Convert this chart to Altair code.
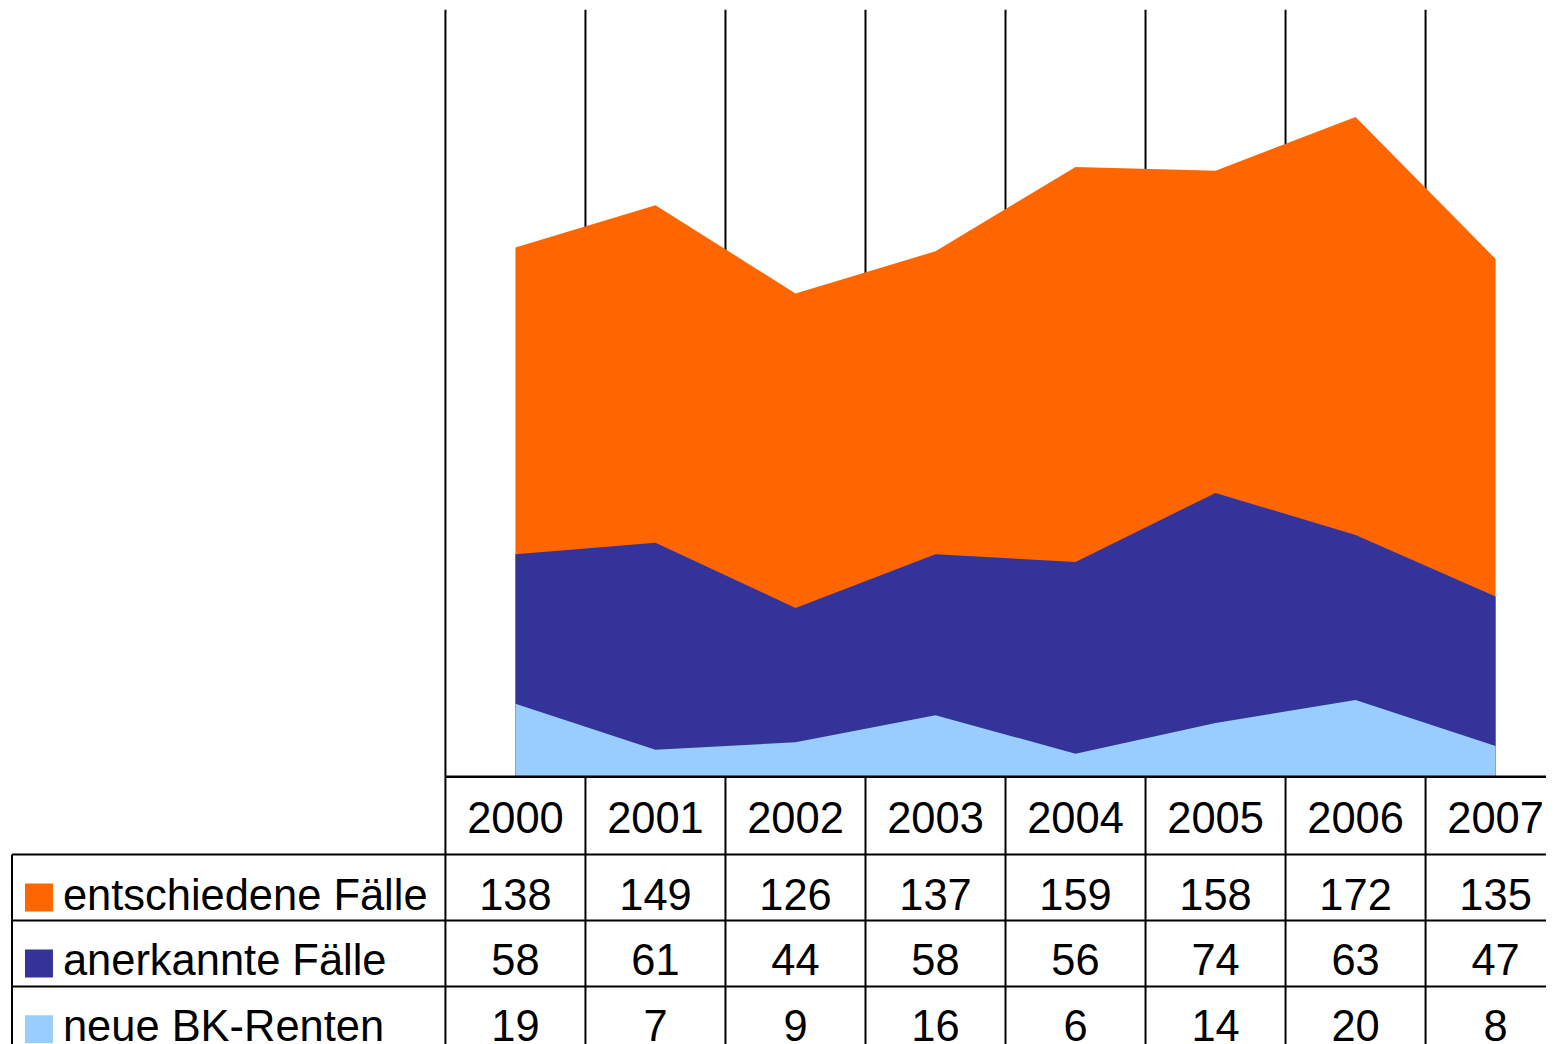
import altair as alt
import pandas as pd

# ---------------- data ----------------
years = ["2000", "2001", "2002", "2003", "2004", "2005", "2006", "2007"]
entschiedene = [138, 149, 126, 137, 159, 158, 172, 135]
anerkannte = [58, 61, 44, 58, 56, 74, 63, 47]
neue_renten = [19, 7, 9, 16, 6, 14, 20, 8]
series_names = ["entschiedene Fälle", "anerkannte Fälle", "neue BK-Renten"]
series_values = [entschiedene, anerkannte, neue_renten]
series_colors = ["#FF6600", "#333399", "#99CCFF"]

# ---------------- layout (pixels / column units) ----------------
W = 1540                 # whole chart width
COL_W = 140.2            # width of one year column in px
FIRST_COL_PX = 438       # chart-relative x of the first year column
X_MIN = -FIRST_COL_PX / COL_W
X_MAX = X_MIN + W / COL_W
X_TABLE_LEFT = (4 - FIRST_COL_PX) / COL_W
X_SQUARE = (31 - FIRST_COL_PX) / COL_W
X_LABEL = (55 - FIRST_COL_PX) / COL_W

PLOT_H = 768
HEAD_H = 78
ROW_H = 66
BODY_H = 190
BODY_MAX = BODY_H / ROW_H
TEXT_BASE = 55 / ROW_H
SQUARE_MID = 43 / ROW_H
HEAD_BASE = 56.3 / HEAD_H

FONT = "Liberation Sans"
FS = 43.5

xs = alt.Scale(domain=[X_MIN, X_MAX], nice=False, zero=False)

# long-form data
rows = []
for r, (name, vals) in enumerate(zip(series_names, series_values)):
    for i, (yr, v) in enumerate(zip(years, vals)):
        rows.append({"year": yr, "pos": i + 0.5, "series": name, "value": v,
                     "row": r})
df = pd.DataFrame(rows)
years_df = pd.DataFrame({"year": years, "pos": [i + 0.5 for i in range(len(years))]})
bounds_df = pd.DataFrame({"b": list(range(len(years)))})
labels_df = pd.DataFrame({"series": series_names, "row": list(range(len(series_names)))})
color_scale = alt.Scale(domain=series_names, range=series_colors)

# ---------------- area chart ----------------
ys = alt.Scale(domain=[0, 200], nice=False)
grid = alt.Chart(bounds_df).mark_rule(color="black", strokeWidth=2).encode(
    x=alt.X("b:Q", scale=xs, axis=None),
    y=alt.Y(datum=200, scale=ys, axis=None),
    y2=alt.datum(0),
)
area_layers = [grid]
for name, col in zip(series_names, series_colors):
    area_layers.append(
        alt.Chart(df[df["series"] == name]).mark_area(color=col, opacity=1).encode(
            x=alt.X("pos:Q", scale=xs, axis=None),
            y=alt.Y("value:Q", scale=ys, axis=None, stack=None),
        )
    )
area_chart = alt.layer(*area_layers).properties(width=W, height=PLOT_H)

# ---------------- header row ----------------
yh = alt.Scale(domain=[0, 1], reverse=True, nice=False, zero=False)
head_v = alt.Chart(bounds_df).mark_rule(color="black", strokeWidth=2).encode(
    x=alt.X("b:Q", scale=xs, axis=None),
    y=alt.Y(datum=0, scale=yh, axis=None),
    y2=alt.datum(1),
)
head_top = alt.Chart(years_df.head(1)).mark_rule(color="black", strokeWidth=2.5).encode(
    x=alt.X(datum=0, scale=xs, axis=None),
    x2=alt.datum(X_MAX),
    y=alt.Y(datum=0, scale=yh, axis=None),
)
head_text = alt.Chart(years_df).mark_text(
    font=FONT, fontSize=FS, color="black", align="center", baseline="alphabetic"
).encode(
    x=alt.X("pos:Q", scale=xs, axis=None),
    y=alt.Y(datum=HEAD_BASE, scale=yh, axis=None),
    text="year:N",
)
header = alt.layer(head_v, head_top, head_text).properties(width=W, height=HEAD_H)

# ---------------- body rows ----------------
yb = alt.Scale(domain=[0, BODY_MAX], reverse=True, nice=False, zero=False)
vlines_df = pd.DataFrame({"b": [X_TABLE_LEFT] + list(range(len(years)))})
hlines_df = pd.DataFrame({"r": list(range(len(series_names)))})
body_v = alt.Chart(vlines_df).mark_rule(color="black", strokeWidth=2).encode(
    x=alt.X("b:Q", scale=xs, axis=None),
    y=alt.Y(datum=0, scale=yb, axis=None),
    y2=alt.datum(BODY_MAX),
)
body_h = alt.Chart(hlines_df).mark_rule(color="black", strokeWidth=2).encode(
    x=alt.X(datum=X_TABLE_LEFT, scale=xs, axis=None),
    x2=alt.datum(X_MAX),
    y=alt.Y("r:Q", scale=yb, axis=None),
)
body_text = alt.Chart(df).transform_calculate(
    ty=f"datum.row + {TEXT_BASE}"
).mark_text(
    font=FONT, fontSize=FS, color="black", align="center", baseline="alphabetic",
    clip=True,
).encode(
    x=alt.X("pos:Q", scale=xs, axis=None),
    y=alt.Y("ty:Q", scale=yb, axis=None),
    text="value:Q",
)
label_text = alt.Chart(labels_df).transform_calculate(
    ty=f"datum.row + {TEXT_BASE}"
).mark_text(
    font=FONT, fontSize=FS, color="black", align="left", baseline="alphabetic",
    clip=True,
).encode(
    x=alt.X(datum=X_LABEL, scale=xs, axis=None),
    y=alt.Y("ty:Q", scale=yb, axis=None),
    text="series:N",
)
squares = alt.Chart(labels_df).transform_calculate(
    sy=f"datum.row + {SQUARE_MID}"
).mark_point(shape="square", filled=True, size=784, opacity=1, clip=True).encode(
    x=alt.X(datum=X_SQUARE, scale=xs, axis=None),
    y=alt.Y("sy:Q", scale=yb, axis=None),
    color=alt.Color("series:N", scale=color_scale, legend=None),
)
body = alt.layer(body_v, body_h, squares, label_text, body_text).properties(
    width=W, height=BODY_H
)

chart = alt.vconcat(area_chart, header, body, spacing=0, bounds="flush").properties(
    padding=0
).configure_view(strokeWidth=0).configure_concat(spacing=0)

chart.save("out.html", embed_options={"renderer": "svg", "actions": False})
